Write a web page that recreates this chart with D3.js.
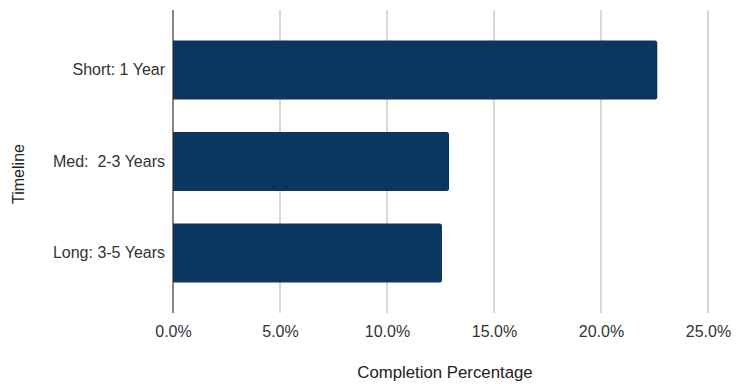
<!DOCTYPE html>
<html><head><meta charset="utf-8">
<script src="https://cdn.jsdelivr.net/npm/d3@7"></script>
<style>body{margin:0;background:#fff}svg{display:block}text{font-family:Arial,"Liberation Sans",sans-serif}</style>
</head><body>
<svg id="c" width="748" height="384"></svg>
<script>
const categories = ["Short: 1 Year", "Med:  2-3 Years", "Long: 3-5 Years"];
const values = [0.2263, 0.129, 0.1257];
const tickValues = [0, 0.05, 0.10, 0.15, 0.20, 0.25];
const xTitle = "Completion Percentage";
const yTitle = "Timeline";

const FONT = 'Arial,"Liberation Sans",sans-serif';
const svg = d3.select("#c");
const L = 173, R = 708, T = 10, B = 313;
const x = d3.scaleLinear().domain([0, 0.25]).range([L, R]);
const y = d3.scaleBand().domain(categories).range([T, B]).paddingInner(0.355).paddingOuter(0.333);

svg.append("g").selectAll("line").data(tickValues.slice(1)).join("line")
  .attr("x1", d => x(d)).attr("x2", d => x(d)).attr("y1", T).attr("y2", B)
  .attr("stroke", "#cccccc").attr("stroke-width", 1.5);

svg.append("g").selectAll("path").data(values).join("path")
  .attr("fill", "#0a365f")
  .attr("d", (d, i) => {
    const x0 = x(0), x1 = x(d), y0 = y(categories[i]), h = y.bandwidth(), r = 2.5;
    return `M${x0},${y0}H${x1 - r}Q${x1},${y0} ${x1},${y0 + r}V${y0 + h - r}Q${x1},${y0 + h} ${x1 - r},${y0 + h}H${x0}Z`;
  });

svg.append("line").attr("x1", L).attr("x2", L).attr("y1", T).attr("y2", B)
  .attr("stroke", "#333").attr("stroke-width", 1.2);

const fmt = d3.format(".1%");
const xAxis = d3.axisBottom(x).tickValues(tickValues).tickFormat(fmt).tickSize(0).tickPadding(0);
const gx = svg.append("g").attr("transform", `translate(0,${B})`).call(xAxis);
gx.select(".domain").remove();
gx.selectAll("text").attr("dy", null).attr("y", 24).attr("font-size", 16).attr("fill", "#333").attr("font-family", FONT);

const yAxis = d3.axisLeft(y).tickSize(0).tickPadding(8);
const gy = svg.append("g").attr("transform", `translate(${L},0)`).call(yAxis);
gy.select(".domain").remove();
gy.selectAll("text").attr("font-size", 16).attr("fill", "#333").attr("font-family", FONT).style("white-space", "pre");

svg.append("text").attr("x", 445).attr("y", 378).attr("text-anchor", "middle")
  .attr("font-size", 16.8).attr("fill", "#222").attr("font-family", FONT).text(xTitle);
svg.append("text").attr("transform", `translate(24,174) rotate(-90)`).attr("text-anchor", "middle")
  .attr("font-size", 16).attr("fill", "#222").attr("font-family", FONT).text(yTitle);
</script>
</body></html>
